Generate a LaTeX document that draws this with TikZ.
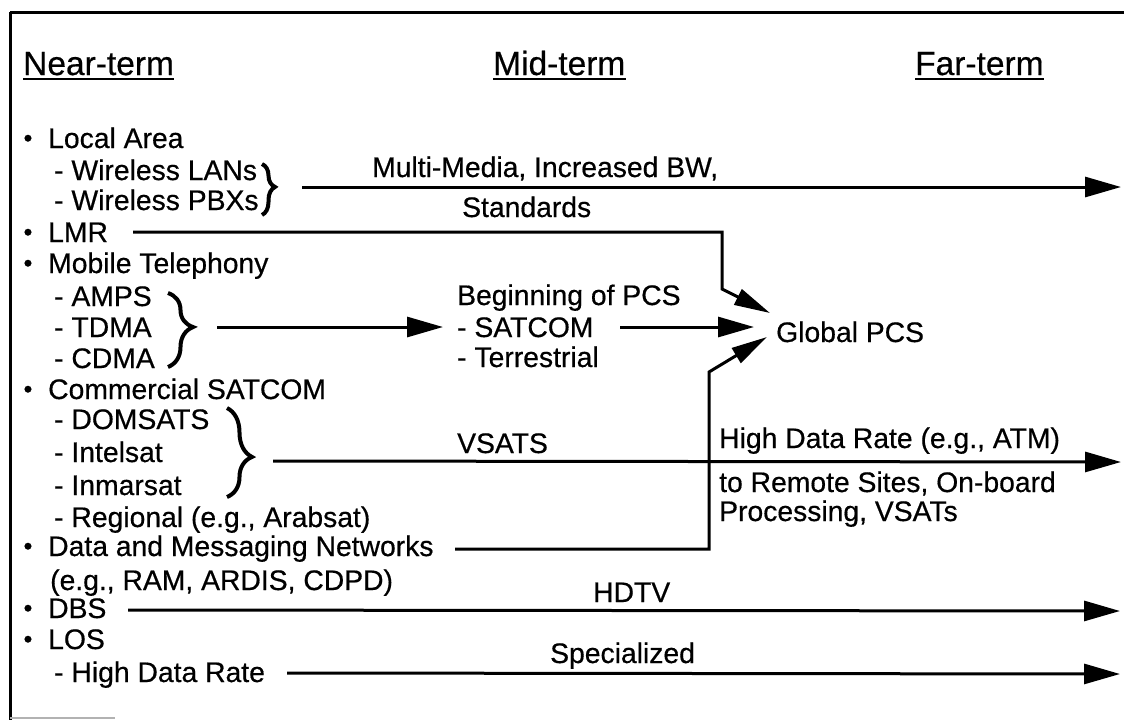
\documentclass[tikz,border=0pt]{standalone}
\usepackage{fontspec}
\setmainfont{Liberation Sans}[FakeBold=0.5]
\usetikzlibrary{arrows.meta,decorations.pathreplacing}
\begin{document}
\begin{tikzpicture}[x=1pt,y=-1pt,
  txt/.style={inner sep=0pt, anchor=base west, font=\fontsize{28.3}{30}\selectfont},
  hdr/.style={inner sep=0pt, anchor=base west, font=\fontsize{33.5}{36}\selectfont},
  bul/.style={inner sep=0pt, anchor=base, font=\fontsize{25}{25}\selectfont},
  conn/.style={line width=3pt, line join=miter},
  arr/.style={conn, -{Triangle[length=36pt,width=20pt]}},
  darr/.style={conn, -{Triangle[length=36pt,width=17pt]}},
  brc/.style={decorate, line width=4pt},
  frame/.style={line width=3pt}
]
\useasboundingbox (0,0) rectangle (1124,721);
% frame
\draw[frame] (10,12) -- (1124,12);
\draw[frame] (10,12) -- (10,720);
\draw[gray!60, line width=1.5pt] (10,718) -- (115,718);

% headers
\node[hdr] (near) at (23,75) {Near-term};
\node[hdr] (mid) at (493,75) {Mid-term};
\node[hdr] (far) at (915,75) {Far-term};
\foreach \h in {near,mid,far}
  \draw[line width=2.2pt] ([yshift=-4pt]\h.base west) -- ([yshift=-4pt]\h.base east);

% left column
\node[bul] (b1) at (28,148) {\raisebox{1.5pt}{•}};
\node[txt] (local) at (48,148) {Local Area};
\node[txt] (lans) at (54,180) {- Wireless LANs};
\node[txt] (pbx) at (54,210) {- Wireless PBXs};
\node[bul] (b2) at (28,242) {\raisebox{1.5pt}{•}};
\node[txt] (lmr) at (48,242) {LMR};
\node[bul] (b3) at (28,273) {\raisebox{1.5pt}{•}};
\node[txt] (mob) at (48,273) {Mobile Telephony};
\node[txt] (amps) at (54,306) {- AMPS};
\node[txt] (tdma) at (54,337) {- TDMA};
\node[txt] (cdma) at (54,368) {- CDMA};
\node[bul] (b4) at (28,399) {\raisebox{1.5pt}{•}};
\node[txt] (csat) at (48,399) {Commercial SATCOM};
\node[txt] (dom) at (54,429) {- DOMSATS};
\node[txt] (intel) at (54,462) {- Intelsat};
\node[txt] (inm) at (54,495) {- Inmarsat};
\node[txt] (reg) at (54,527) {- Regional (e.g., Arabsat)};
\node[bul] (b5) at (28,556) {\raisebox{1.5pt}{•}};
\node[txt] (data) at (48,556) {Data and Messaging Networks};
\node[txt] (eg) at (50,590) {(e.g., RAM, ARDIS, CDPD)};
\node[bul] (b6) at (28,618) {\raisebox{1.5pt}{•}};
\node[txt] (dbs) at (48,618) {DBS};
\node[bul] (b7) at (28,649) {\raisebox{1.5pt}{•}};
\node[txt] (los) at (48,649) {LOS};
\node[txt] (hdr) at (54,682) {- High Data Rate};

% braces
\draw[brc, decoration={brace, amplitude=13pt, aspect=0.45}] (262,164) -- (262,215);
\draw[brc, decoration={brace, amplitude=25pt, aspect=0.46}] (168,293) -- (168,367);
\draw[brc, decoration={brace, amplitude=25pt, aspect=0.55}] (227,408) -- (227,497);

% middle texts
\node[txt] (mmt) at (372,177) {Multi-Media, Increased BW,};
\node[txt] (std) at (462,217) {Standards};
\node[txt] (beg) at (457,305) {Beginning of PCS};
\node[txt] (satc) at (457,337) {- SATCOM};
\node[txt] (terr) at (457,367) {- Terrestrial};
\node[txt] (gpcs) at (776,342) {Global PCS};
\node[txt] (vsats) at (457,453) {VSATS};
\node[txt] (hdr1) at (719,448) {High Data Rate (e.g., ATM)};
\node[txt] (hdr2) at (719,492) {to Remote Sites, On-board};
\node[txt] (hdr3) at (719,521) {Processing, VSATs};
\node[txt] (hdtv) at (593,602) {HDTV};
\node[txt] (spec) at (550,663) {Specialized};

% connector coordinates
\coordinate (mm0) at (302,187);
\coordinate (mm1) at (1121,187);
\coordinate (lmr0) at (133,232);
\coordinate (lmrc1) at (722,232);
\coordinate (lmrc2) at (722,289);
\coordinate (g1) at (770,313);
\coordinate (amps0) at (217,327);
\coordinate (amps1) at (443,327);
\coordinate (sat0) at (620,327);
\coordinate (g2) at (754,327);
\coordinate (d0) at (455,549);
\coordinate (dc1) at (709,549);
\coordinate (dc2) at (709,372);
\coordinate (g3) at (767,337);
\coordinate (v0) at (273,461);
\coordinate (v1) at (1121,462);
\coordinate (dbs0) at (128,610);
\coordinate (dbs1) at (1120,611);
\coordinate (h0) at (287,673);
\coordinate (h1) at (1120,674);

% connectors
\draw[arr] (mm0) -- (mm1);
\draw[darr] (lmr0) -- (lmrc1) -- (lmrc2) -- (g1);
\draw[arr] (amps0) -- (amps1);
\draw[arr] (sat0) -- (g2);
\draw[darr] (d0) -- (dc1) -- (dc2) -- (g3);
\draw[arr] (v0) -- (v1);
\draw[arr] (dbs0) -- (dbs1);
\draw[arr] (h0) -- (h1);
\end{tikzpicture}
\end{document}
